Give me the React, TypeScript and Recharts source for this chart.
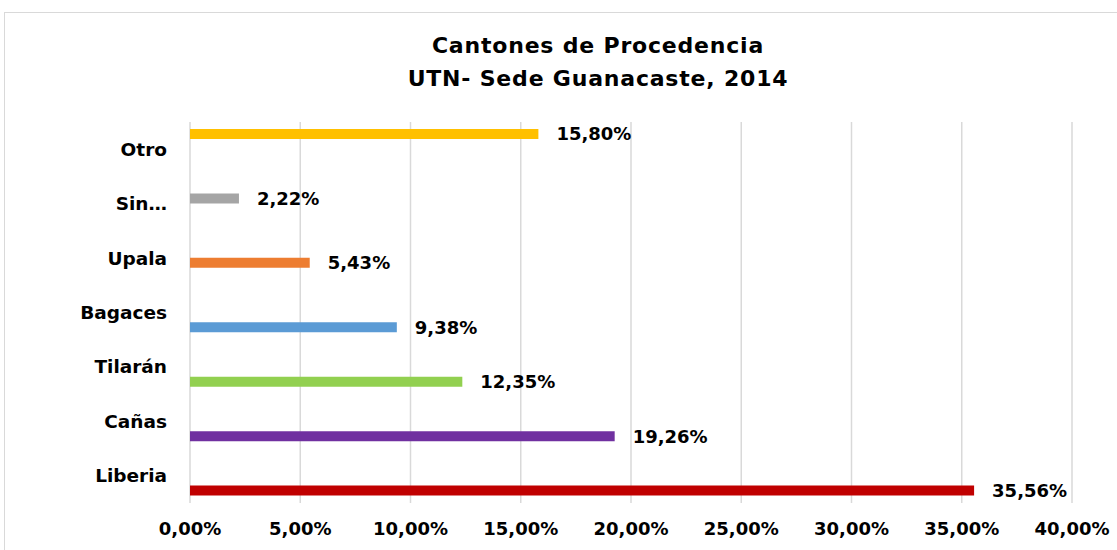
import React from 'react';
import { BarChart, Bar, XAxis, YAxis, CartesianGrid, Cell, LabelList } from 'recharts';

// Categories listed top to bottom as drawn
const categories = ['Otro', 'Sin…', 'Upala', 'Bagaces', 'Tilarán', 'Cañas', 'Liberia'];
const values = [0.158, 0.0222, 0.0543, 0.0938, 0.1235, 0.1926, 0.3556];
// Excel series slot each category's bar sits in (0 = top of the band)
const seriesSlot = [0, 1, 2, 3, 3, 3, 3];
const barColors = ['#FFC000', '#A5A5A5', '#ED7D31', '#5B9BD5', '#92D050', '#7030A0', '#C00000'];
const xTicks = [0, 0.05, 0.1, 0.15, 0.2, 0.25, 0.3, 0.35, 0.4];

const slotKeys = ['s0', 's1', 's2', 's3'];

const data = categories.map((name, i) => {
  const row: Record<string, any> = { name };
  slotKeys.forEach((k, s) => {
    row[k] = seriesSlot[i] === s ? values[i] : null;
  });
  return row;
});

const FONT = '"DejaVu Sans", "Liberation Sans", sans-serif';

const pct = (v: any) => {
  if (v === null || v === undefined || v === '') return '';
  return (Number(v) * 100).toFixed(2).replace('.', ',') + '%';
};

export default function App() {
  return (
    <div style={{ position: 'absolute', left: 0, top: 0, width: 1117, height: 550, overflow: 'hidden', background: '#fff' }}>
      <div
        style={{
          position: 'absolute',
          left: 4,
          top: 12,
          width: 1140,
          height: 580,
          border: '1.5px solid #d9d9d9',
          boxSizing: 'border-box',
        }}
      />
      <div
        style={{
          position: 'absolute',
          left: 0,
          top: 29,
          width: 1196,
          textAlign: 'center',
          fontFamily: FONT,
          fontWeight: 'bold',
          fontSize: 22,
          letterSpacing: 0.8,
          lineHeight: '33px',
          color: '#000',
        }}
      >
        <div>Cantones de Procedencia</div>
        <div>UTN- Sede Guanacaste, 2014</div>
      </div>
      <div style={{ position: 'absolute', left: 0, top: 0 }}>
        <BarChart
          width={1117}
          height={550}
          data={data}
          layout="vertical"
          margin={{ top: 122, right: 45, left: 0, bottom: 0 }}
          barSize={10}
          barGap={0}
        >
          <CartesianGrid horizontal={false} stroke="#d9d9d9" strokeWidth={1.5} />
          <XAxis
            type="number"
            domain={[0, 0.4]}
            ticks={xTicks}
            tickFormatter={pct}
            axisLine={false}
            tickLine={false}
            tickSize={0}
            tickMargin={19}
            height={47}
            interval={0}
            tick={{ fill: '#000', fontFamily: FONT, fontWeight: 'bold', fontSize: 18 }}
          />
          <YAxis
            type="category"
            dataKey="name"
            width={190}
            axisLine={false}
            tickLine={false}
            tickSize={0}
            tickMargin={23}
            interval={0}
            tick={{ fill: '#000', fontFamily: FONT, fontWeight: 'bold', fontSize: 18.5 }}
          />
          {slotKeys.map((k) => (
            <Bar key={k} dataKey={k} isAnimationActive={false}>
              {data.map((_, i) => (
                <Cell key={i} fill={barColors[i]} />
              ))}
              <LabelList
                dataKey={k}
                position="right"
                offset={18}
                formatter={pct}
                fill="#000"
                style={{ fontFamily: FONT, fontWeight: 'bold', fontSize: 18 }}
              />
            </Bar>
          ))}
        </BarChart>
      </div>
    </div>
  );
}
